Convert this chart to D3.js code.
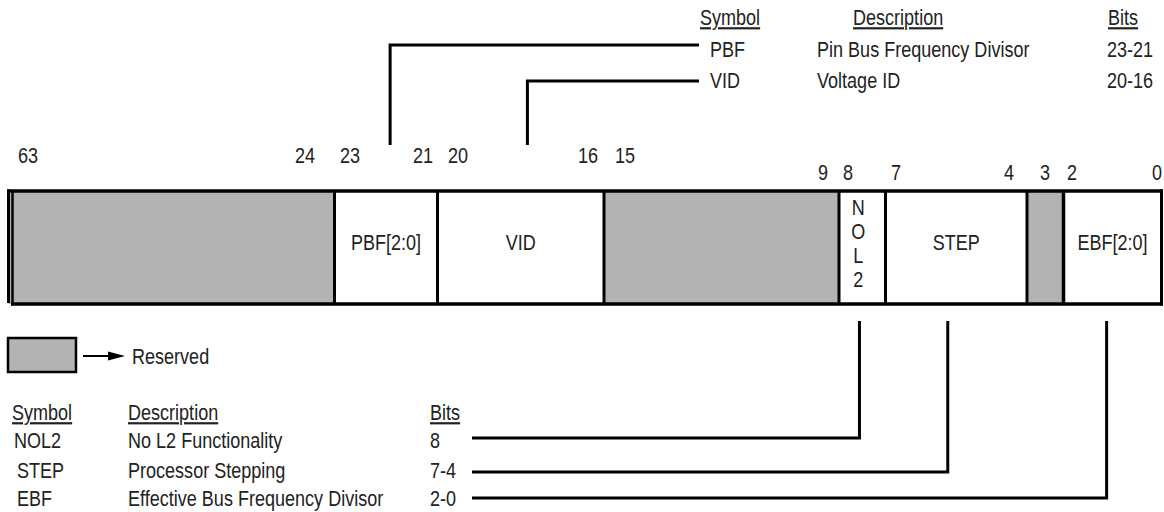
<!DOCTYPE html>
<html><head><meta charset="utf-8">
<script src="https://cdn.jsdelivr.net/npm/d3@7"></script>
<style>html,body{margin:0;padding:0;background:#fff;} svg{display:block;}</style>
</head><body>
<svg id="chart" width="1164" height="512"></svg>
<script>
// ---------- DATA ----------
const fieldNames    = ["Reserved", "PBF[2:0]", "VID", "Reserved", "NOL2", "STEP", "Reserved", "EBF[2:0]"];
const fieldHi       = [63, 23, 20, 15, 8, 7, 3, 2];
const fieldLo       = [24, 21, 16, 9, 8, 4, 3, 0];
const fieldReserved = [true, false, false, true, false, false, true, false];
const bitTickLabels = ["63", "24", "23", "21", "20", "16", "15", "9", "8", "7", "4", "3", "2", "0"];

const tableHeaders  = ["Symbol", "Description", "Bits"];
const topSymbols    = ["PBF", "VID"];
const topDescs      = ["Pin Bus Frequency Divisor", "Voltage ID"];
const topBits       = ["23-21", "20-16"];
const botSymbols    = ["NOL2", "STEP", "EBF"];
const botDescs      = ["No L2 Functionality", "Processor Stepping", "Effective Bus Frequency Divisor"];
const botBits       = ["8", "7-4", "2-0"];
const legendLabel   = "Reserved";

// ---------- LAYOUT ----------
(function () {
const svg = d3.select("#chart");
const GRAY = "#b3b3b3", INK = "#000", TXT = "#222";
const FS = 22;

// detect a real narrow face; otherwise compress Liberation Sans horizontally
const m1 = svg.append("text").attr("font-family", "'Liberation Sans Narrow', monospace").attr("font-size", 100).text("Description Bits");
const m2 = svg.append("text").attr("font-family", "monospace").attr("font-size", 100).text("Description Bits");
const narrow = Math.abs(m1.node().getComputedTextLength() - m2.node().getComputedTextLength()) > 1;
m1.remove(); m2.remove();
const fam = narrow ? "'Liberation Sans Narrow', sans-serif" : "'Liberation Sans', Arial, sans-serif";
const sx = narrow ? 1 : 0.82;

function label(g, x, y, s, anchor, underline) {
  const t = g.append("text")
    .attr("transform", `translate(${x},${y}) scale(${sx},1)`)
    .attr("text-anchor", anchor || "start")
    .attr("font-family", fam).attr("font-size", FS).attr("fill", TXT)
    .text(s);
  if (underline) t.attr("text-decoration", "underline");
  return t;
}

const x = d3.scaleLinear()
  .domain([64, 24, 21, 16, 9, 8, 4, 3, 0])
  .range([8.5, 334.5, 437.5, 604, 839, 885.5, 1027, 1063.5, 1161.5]);

const fields = fieldNames.map((n, i) => ({ name: n, hi: fieldHi[i], lo: fieldLo[i], reserved: fieldReserved[i] }));
const yTop = 191, yBot = 304;

const reg = svg.append("g");
reg.selectAll("rect.f").data(fields).join("rect")
  .attr("x", d => x(d.hi + 1)).attr("y", yTop)
  .attr("width", d => x(d.lo) - x(d.hi + 1)).attr("height", yBot - yTop)
  .attr("fill", d => d.reserved ? GRAY : "#fff");
const inner = fields.slice(1).map(d => d.hi + 1);
reg.selectAll("line.div").data(inner).join("line")
  .attr("x1", d => x(d)).attr("x2", d => x(d))
  .attr("y1", yTop).attr("y2", yBot)
  .attr("stroke", INK).attr("stroke-width", d => d === 3 ? 3.5 : 3);
reg.append("line").attr("x1", 7).attr("x2", 1163).attr("y1", yTop).attr("y2", yTop).attr("stroke", INK).attr("stroke-width", 3.5);
reg.append("line").attr("x1", 11).attr("x2", 1163).attr("y1", yBot).attr("y2", yBot).attr("stroke", INK).attr("stroke-width", 3.5);
reg.append("line").attr("x1", x(64)).attr("x2", x(64)).attr("y1", yTop - 1.5).attr("y2", yBot - 1).attr("stroke", INK).attr("stroke-width", 3);
reg.append("line").attr("x1", x(64) + 4).attr("x2", x(64) + 4).attr("y1", yTop).attr("y2", yBot + 1.5).attr("stroke", INK).attr("stroke-width", 2.5);
reg.append("line").attr("x1", x(0)).attr("x2", x(0)).attr("y1", yTop - 1.5).attr("y2", yBot + 1.5).attr("stroke", INK).attr("stroke-width", 3);

fields.filter(d => !d.reserved).forEach(d => {
  const cx = (x(d.hi + 1) + x(d.lo)) / 2;
  if (d.name === "NOL2") {
    d.name.split("").forEach((ch, k) => label(reg, cx - 4, 215 + k * 24, ch, "middle"));
  } else {
    label(reg, cx, 250, d.name, "middle");
  }
});

const tickLayout = {
  "63": [64, 19.5], "24": [24, -29.5], "23": [24, 15.5], "21": [21, -14.5], "20": [21, 20.5],
  "16": [16, -16], "15": [16, 21], "9": [9, -16], "8": [9, 9], "7": [8, 10.5],
  "4": [4, -18], "3": [4, 18], "2": [3, 8.5], "0": [0, -4.5]
};
bitTickLabels.forEach(s => {
  const [b, dx] = tickLayout[s];
  const yy = (+s >= 15) ? 163 : 180;
  label(svg, x(b) + dx, yy, s, "middle");
});

const topG = svg.append("g");
label(topG, 700, 25, tableHeaders[0], "start", true);
label(topG, 853, 25, tableHeaders[1], "start", true);
label(topG, 1108, 25, tableHeaders[2], "start", true);
const topRowY = [57, 88], topLineY = [45, 81];
topSymbols.forEach((s, i) => {
  label(topG, 710, topRowY[i], s);
  label(topG, 817, topRowY[i], topDescs[i]);
  label(topG, 1107, topRowY[i], topBits[i]);
});
const topFields = [fields[1], fields[2]];
topFields.forEach((d, i) => {
  const cx = x(d.hi + 1) + 0.54 * (x(d.lo) - x(d.hi + 1));
  topG.append("path")
    .attr("d", d3.line()([[cx, 145], [cx, topLineY[i]], [699, topLineY[i]]]))
    .attr("fill", "none").attr("stroke", INK).attr("stroke-width", 3);
});

const leg = svg.append("g");
leg.append("rect").attr("x", 8).attr("y", 338).attr("width", 68).attr("height", 34)
  .attr("fill", GRAY).attr("stroke", INK).attr("stroke-width", 2.5);
leg.append("line").attr("x1", 83).attr("x2", 112).attr("y1", 356).attr("y2", 356).attr("stroke", INK).attr("stroke-width", 2);
leg.append("path").attr("d", "M108,351.5 L125,356 L108,360.5 Z").attr("fill", INK);
label(leg, 132, 364, legendLabel);

const botG = svg.append("g");
label(botG, 12, 420, tableHeaders[0], "start", true);
label(botG, 128, 420, tableHeaders[1], "start", true);
label(botG, 430, 420, tableHeaders[2], "start", true);
const botRowY = [448, 478, 506], botLineY = [438, 472, 498], symX = [14, 17, 17];
botSymbols.forEach((s, i) => {
  label(botG, symX[i], botRowY[i], s);
  label(botG, 128, botRowY[i], botDescs[i]);
  label(botG, 430, botRowY[i], botBits[i]);
});
const botFields = [fields[4], fields[5], fields[7]];
botFields.forEach((d, i) => {
  const cx = x(d.hi + 1) + 0.44 * (x(d.lo) - x(d.hi + 1));
  botG.append("path")
    .attr("d", d3.line()([[472, botLineY[i]], [cx, botLineY[i]], [cx, 321]]))
    .attr("fill", "none").attr("stroke", INK).attr("stroke-width", 3);
});
})();
</script>
</body></html>
